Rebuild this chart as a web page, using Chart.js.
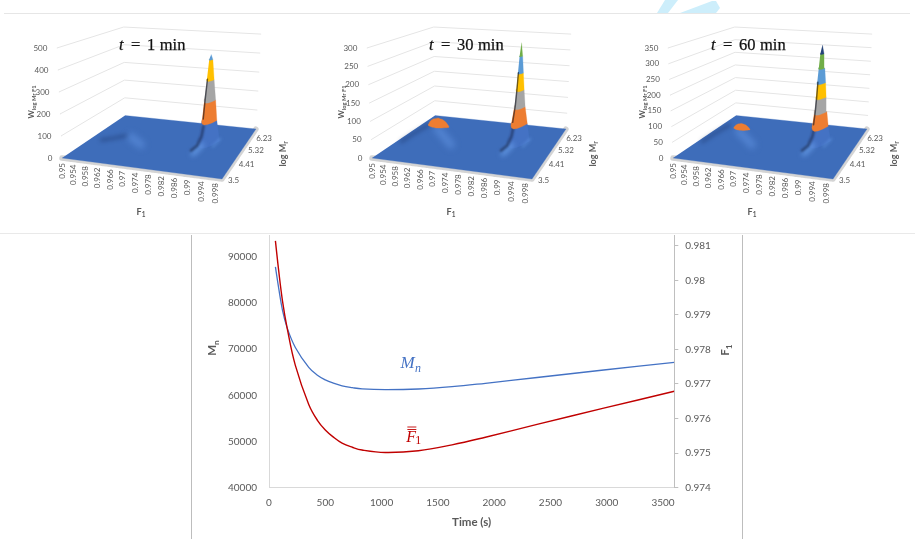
<!DOCTYPE html>
<html>
<head>
<meta charset="utf-8">
<script src="https://cdn.jsdelivr.net/npm/chart.js@4/dist/chart.umd.min.js"></script>
<style>
  html, body { margin: 0; padding: 0; background: #fff; overflow: hidden; }
  canvas { position: absolute; }
  .rule { position: absolute; }
</style>
</head>
<body>
<svg style="position:absolute;left:0;top:0" width="915" height="14">
  <polygon points="657,13 668,13 678,0 665,0" fill="#cdeefb"/>
  <polygon points="680,13 716,13 720,8 716,1 712,1" fill="#cdeefb"/>
</svg>
<div class="rule" style="left:4px;top:13px;width:906px;height:1px;background:#e6e6e6"></div>
<div class="rule" style="left:0;top:233px;width:915px;height:1px;background:#e9e9e9"></div>
<div class="rule" style="left:191px;top:235px;width:1px;height:304px;background:#bdbdbd"></div>
<div class="rule" style="left:742px;top:235px;width:1px;height:304px;background:#bdbdbd"></div>
<canvas id="surf1" width="300" height="228" style="left:0;top:0"></canvas>
<canvas id="surf30" width="300" height="228" style="left:310px;top:0"></canvas>
<canvas id="surf60" width="300" height="228" style="left:611px;top:0"></canvas>
<canvas id="trend" width="550" height="304" style="left:192px;top:235px"></canvas>
<script>
// bottom chart
const timeSeconds = [57, 86, 120, 160, 234, 353, 430, 500, 570, 649, 740, 827, 1033, 1327, 1626, 1922, 2381, 2973, 3600];
const mnValues = [87800, 83200, 78400, 74700, 70360, 66050, 64350, 63350, 62650, 62050, 61650, 61380, 61220, 61360, 61860, 62600, 63850, 65480, 67140];
const f1Values = [0.98114, 0.98028, 0.9794, 0.97864, 0.97754, 0.97641, 0.97595, 0.97567, 0.97547, 0.97529, 0.97517, 0.97509, 0.97502, 0.97507, 0.97524, 0.97546, 0.97583, 0.9763, 0.97679];
const timeTicks = [0, 500, 1000, 1500, 2000, 2500, 3000, 3500];
const mnTicks = [40000, 50000, 60000, 70000, 80000, 90000];
const f1Ticks = [0.974, 0.975, 0.976, 0.977, 0.978, 0.979, 0.98, 0.981];

// surface axes
const surfaceF1Ticks = [0.95, 0.954, 0.958, 0.962, 0.966, 0.97, 0.974, 0.978, 0.982, 0.986, 0.99, 0.994, 0.998];
const logMrTicks = [3.5, 4.41, 5.32, 6.23];
const wTicks1 = [0, 100, 200, 300, 400, 500];
const wTicks30 = [0, 50, 100, 150, 200, 250, 300];
const wTicks60 = [0, 50, 100, 150, 200, 250, 300, 350];

// tall peak: contour heights and half width in F1 at each height
const spikeLevels1 = [0, 100, 200, 300, 400, 425];
const spikeWidths1 = [0.0036, 0.0025, 0.0019, 0.0012, 0.0006, 0];
const spikeLevels30 = [0, 50, 100, 150, 200, 250, 290];
const spikeWidths30 = [0.0036, 0.0027, 0.0018, 0.0013, 0.0009, 0.0005, 0];
const spikeLevels60 = [0, 50, 100, 150, 200, 250, 300, 330];
const spikeWidths60 = [0.0036, 0.0027, 0.0021, 0.0017, 0.0014, 0.001, 0.0006, 0];

// low peak, only the part above the first colour step
const domeLevels30 = [50, 58, 65, 70, 74];
const domeWidths30 = [0.0037, 0.0032, 0.0025, 0.0016, 0];
const domeLevels60 = [50, 56, 61, 65, 68];
const domeWidths60 = [0.0029, 0.0025, 0.002, 0.0013, 0];

// shaded ridges on the surface as [F1, log Mr, W]
const darkTrack1 = [[0.954, 4.88, 0], [0.957, 5.1, 0], [0.96, 5.39, 0]];
const darkTrack30 = [[0.9515, 4.7, 0], [0.9518, 5.4, 0], [0.9525, 6.08, 0]];
const glowTrack1 = [[0.9645, 4.9, 30], [0.968, 4.88, 0]];
const glowTrack30 = [[0.9635, 4.88, 40], [0.968, 4.88, 0]];
const spikeGlow = [[0.9865, 4.7, 0], [0.9868, 5.3, 0]];
const spikeGlowRight = [[0.9905, 5.3, 0], [0.9908, 5.9, 0]];
// foot of the tall peak, third value is a share of the top of the W axis
const shadowBase = [[0.985, 4.88, 0], [0.9855, 5.25, 0], [0.9855, 5.6, 0.05], [0.9855, 5.74, 0.13]];

const bandColors = ["#4472C4", "#ED7D31", "#A5A5A5", "#FFC000", "#5B9BD5", "#70AD47", "#264478"];
const floorColor = "#3E6DBA";
const textColor = "#595959";
const numFont = "Lato";

// corners of the floor in canvas pixels, the same for all three surfaces
const H = (() => {
  const [x0, y0] = [62, 158], [x1, y1] = [222, 179], [x2, y2] = [256, 129], [x3, y3] = [125, 115.5];
  const dx1 = x1 - x2, dx2 = x3 - x2, sx = x0 - x1 + x2 - x3;
  const dy1 = y1 - y2, dy2 = y3 - y2, sy = y0 - y1 + y2 - y3;
  const det = dx1 * dy2 - dx2 * dy1;
  const g = (sx * dy2 - dx2 * sy) / det, h = (dx1 * sy - sx * dy1) / det;
  return { a: x1 - x0 + g * x1, b: x3 - x0 + h * x3, c: x0, d: y1 - y0 + g * y1, e: y3 - y0 + h * y3, f: y0, g, h };
})();

const F1_MIN = 0.95, F1_MAX = 1, M_MIN = 3.5, M_MAX = 6.94;

function project(f1, m, w, wMax) {
  const u = (f1 - F1_MIN) / (F1_MAX - F1_MIN), v = (m - M_MIN) / (M_MAX - M_MIN);
  const q = H.g * u + H.h * v + 1;
  const x = (H.a * u + H.b * v + H.c) / q;
  const y = (H.d * u + H.e * v + H.f) / q;
  const zp = (w / wMax) * 110 / q;
  return { x: x + (x - 155) * 0.0005 * zp, y: y - zp };
}

function area(points, color) {
  return { data: points, showLine: true, fill: "shape", backgroundColor: color, borderColor: color, borderWidth: 0.3, pointRadius: 0, clip: false };
}
function stroke(points, color, width, soft) {
  return { data: points, showLine: true, fill: false, borderColor: color, borderWidth: width, pointRadius: 0, borderCapStyle: "round", borderJoinStyle: "round", clip: false, soft };
}

// one colour band of a peak between two contours, the lower edge bows forward
function bandPoints(f1, m, levels, widths, from, to, wMax, bow) {
  const pts = [];
  [-1, -0.7, -0.35, 0, 0.35, 0.7, 1].forEach(t => {
    pts.push(project(f1 + t * widths[from], m - bow * widths[from] * (1 - t * t), levels[from], wMax));
  });
  for (let i = from + 1; i <= to; i++) pts.push(project(f1 + widths[i], m, levels[i], wMax));
  for (let i = to; i > from; i--) pts.push(project(f1 - widths[i], m, levels[i], wMax));
  return pts;
}

const softBlur = {
  id: "softBlur",
  beforeDatasetDraw(chart, args) {
    const b = chart.data.datasets[args.index].soft;
    if (b) chart.ctx.filter = "blur(" + b + "px)";
  },
  afterDatasetDraw(chart) { chart.ctx.filter = "none"; }
};

// text made of normal and lowered runs, can be turned
function subText(ctx, parts, x, y, size, color, angle, weight) {
  ctx.save();
  ctx.translate(x, y);
  ctx.rotate(angle);
  ctx.fillStyle = color;
  ctx.textBaseline = "alphabetic";
  ctx.textAlign = "left";
  let total = 0;
  parts.forEach(p => {
    ctx.font = weight + " " + (p[1] ? size * 0.72 : size) + "px " + numFont;
    total += ctx.measureText(p[0]).width;
  });
  let cx = -total / 2;
  parts.forEach(p => {
    ctx.font = weight + " " + (p[1] ? size * 0.72 : size) + "px " + numFont;
    ctx.fillText(p[0], cx, size * 0.35 + (p[1] ? size * 0.22 : 0));
    cx += ctx.measureText(p[0]).width;
  });
  ctx.restore();
}

function surfaceLabels(wTicks, minutes, titleX) {
  const wMax = wTicks[wTicks.length - 1];
  return {
    id: "surfaceLabels",
    afterDraw(chart) {
      const ctx = chart.ctx;
      ctx.save();
      ctx.fillStyle = textColor;
      ctx.font = "8px " + numFont;
      ctx.textAlign = "right";
      ctx.textBaseline = "middle";
      wTicks.forEach(w => {
        const p = project(F1_MIN, M_MIN, w, wMax);
        ctx.fillText(String(w), p.x - 9.5, p.y);
      });
      ctx.textAlign = "left";
      logMrTicks.forEach(m => {
        const p = project(F1_MAX, m, 0, wMax);
        ctx.fillText(String(m), p.x + 6, p.y + 1);
      });
      surfaceF1Ticks.forEach(f => {
        const p = project(f, M_MIN, 0, wMax);
        ctx.save();
        ctx.translate(p.x, p.y + 5);
        ctx.rotate(-Math.PI / 2);
        ctx.textAlign = "right";
        ctx.fillText(String(f), 0, 0);
        ctx.restore();
      });
      ctx.restore();
      subText(ctx, [["W", 0], ["log Mr F1", 1]], 31, 102, 8, textColor, -Math.PI / 2, "bold");
      subText(ctx, [["F", 0], ["1", 1]], 141, 212, 9, textColor, 0, "bold");
      subText(ctx, [["log M", 0], ["r", 1]], 283, 154, 9, textColor, -Math.PI / 2, "bold");
      // panel title, thin outline to get the weight of the original face
      ctx.save();
      ctx.fillStyle = "#111";
      ctx.strokeStyle = "#111";
      ctx.lineWidth = 0.25;
      ctx.textAlign = "left";
      ctx.textBaseline = "alphabetic";
      const put = (s, x) => { ctx.fillText(s, x, 50); ctx.strokeText(s, x, 50); };
      ctx.font = "italic 16.5px 'Liberation Serif'";
      put("t", titleX);
      ctx.font = "16.5px 'Liberation Serif'";
      put("=", titleX + 12);
      put(minutes, titleX + 28);
      put("min", titleX + 28 + ctx.measureText(minutes).width + 4.5);
      ctx.restore();
    }
  };
}

function makeSurface(id, cfg) {
  const { wTicks, levels, widths, domeLevels, domeWidths, darkTrack, glowTrack, titleX, minutes } = cfg;
  const wMax = wTicks[wTicks.length - 1];
  const P = (f, m, w) => project(f, m, w, wMax);
  const spikeF1 = 0.9875, spikeM = 5.74, domeF1 = cfg.domeF1, domeM = 4.88;
  const layers = [];
  // walls, bottom layer first
  wTicks.slice(1).forEach(w => {
    layers.push(stroke([P(F1_MIN, M_MIN, w), P(F1_MIN, M_MAX, w), P(F1_MAX, M_MAX, w)], "#e5e5e5", 1));
  });
  const fl = P(F1_MIN, M_MIN, 0), fr = P(F1_MAX, M_MIN, 0), br = P(F1_MAX, M_MAX, 0), bl = P(F1_MIN, M_MAX, 0);
  const fringe = stroke([fl, fr, br], "#d4d4d4", 5.5);
  fringe.borderDash = [1.6, 0.9];
  layers.push(fringe);
  layers.push(area([fl, fr, br, bl], floorColor));
  // low peak
  layers.push(stroke(darkTrack.map(p => P(p[0], p[1], p[2])), "rgba(12,28,70,0.38)", 3, 2));
  layers.push(stroke(glowTrack.map(p => P(p[0], p[1], p[2])), "rgba(98,150,228,0.55)", 8, 3));
  if (domeLevels) {
    const dome = area(bandPoints(domeF1, domeM, domeLevels, domeWidths, 0, domeLevels.length - 1, wMax, 40), bandColors[1]);
    dome.tension = 0.25;
    layers.push(dome);
  }
  // tall peak, the blue foot first, then its shadow and glow, then the colour bands
  layers.push(area(bandPoints(spikeF1, spikeM, levels, widths, 0, 1, wMax, 180), bandColors[0]));
  layers.push(stroke(spikeGlow.map(p => P(p[0], p[1], p[2])), "rgba(105,160,235,0.75)", 5, 2.4));
  layers.push(stroke(spikeGlowRight.map(p => P(p[0], p[1], p[2])), "rgba(105,160,235,0.4)", 2.5, 1.5));
  layers.push(stroke(shadowBase.map(p => P(p[0], p[1], p[2] * wMax)), "rgba(10,14,35,0.5)", 2.6, 1.2));
  for (let i = 1; i < levels.length - 1; i++) {
    layers.push(area(bandPoints(spikeF1, spikeM, levels, widths, i, i + 1, wMax, 180), bandColors[i]));
  }
  // dark side of the peak, runs up the left flank and thins out
  const flank = [];
  const stop = Math.ceil(levels.length * 0.6);
  for (let i = 1; i < stop; i++) flank.push(P(spikeF1 - widths[i] * 0.85, spikeM, levels[i]));
  layers.push(stroke(flank, "rgba(15,18,30,0.6)", 1.4, 0.7));

  new Chart(document.getElementById(id), {
    type: "scatter",
    // first dataset is painted last in Chart.js
    data: { datasets: layers.reverse() },
    options: {
      responsive: false,
      animation: false,
      events: [],
      layout: { padding: 0 },
      plugins: { legend: { display: false }, tooltip: { enabled: false } },
      scales: {
        x: { display: false, min: 0, max: 300 },
        y: { display: false, min: 0, max: 228, reverse: true }
      }
    },
    plugins: [softBlur, surfaceLabels(wTicks, minutes, titleX)]
  });
}

makeSurface("surf1", { wTicks: wTicks1, levels: spikeLevels1, widths: spikeWidths1, darkTrack: darkTrack1, glowTrack: glowTrack1, titleX: 119, minutes: "1" });
makeSurface("surf30", { wTicks: wTicks30, levels: spikeLevels30, widths: spikeWidths30, domeLevels: domeLevels30, domeWidths: domeWidths30, domeF1: 0.9637, darkTrack: darkTrack30, glowTrack: glowTrack30, titleX: 119, minutes: "30" });
makeSurface("surf60", { wTicks: wTicks60, levels: spikeLevels60, widths: spikeWidths60, domeLevels: domeLevels60, domeWidths: domeWidths60, domeF1: 0.9645, darkTrack: darkTrack30, glowTrack: glowTrack30, titleX: 100, minutes: "60" });

// labels the bottom chart needs beyond its ticks
const trendLabels = {
  id: "trendLabels",
  afterDraw(chart) {
    const ctx = chart.ctx, sx = chart.scales.x, sy = chart.scales.y;
    subText(ctx, [["Time (s)", 0]], sx.getPixelForValue(1800), 286.5, 11.5, textColor, 0, "bold");
    subText(ctx, [["M", 0], ["n", 1]], 20, 113, 11.5, textColor, -Math.PI / 2, "bold");
    subText(ctx, [["F", 0], ["1", 1]], 533, 115, 11.5, textColor, -Math.PI / 2, "bold");
    ctx.save();
    ctx.textBaseline = "alphabetic";
    ctx.textAlign = "left";
    const mx = sx.getPixelForValue(1167), my = sy.getPixelForValue(65900);
    ctx.fillStyle = "#4472C4";
    ctx.font = "italic 17px 'Liberation Serif'";
    ctx.fillText("M", mx, my);
    ctx.font = "italic 12px 'Liberation Serif'";
    ctx.fillText("n", mx + 14.5, my + 4);
    const fx = sx.getPixelForValue(1220), fy = sy.getPixelForValue(50000);
    ctx.fillStyle = "#C00000";
    ctx.font = "italic 16px 'Liberation Serif'";
    ctx.fillText("F", fx, fy);
    ctx.font = "12px 'Liberation Serif'";
    ctx.fillText("1", fx + 9, fy + 2);
    ctx.strokeStyle = "#C00000";
    ctx.lineWidth = 0.9;
    [-14.5, -12].forEach(dy => {
      ctx.beginPath();
      ctx.moveTo(fx + 1, fy + dy);
      ctx.lineTo(fx + 10, fy + dy);
      ctx.stroke();
    });
    ctx.restore();
  }
};

const tickFont = { family: numFont, size: 10 };

new Chart(document.getElementById("trend"), {
  type: "scatter",
  data: {
    datasets: [
      { label: "F1", yAxisID: "y2", data: timeSeconds.map((t, i) => ({ x: t, y: f1Values[i] })), showLine: true, borderColor: "#C00000", borderWidth: 1.4, pointRadius: 0, tension: 0.4 },
      { label: "Mn", yAxisID: "y", data: timeSeconds.map((t, i) => ({ x: t, y: mnValues[i] })), showLine: true, borderColor: "#4472C4", borderWidth: 1.3, pointRadius: 0, tension: 0.4 }
    ]
  },
  options: {
    responsive: false,
    animation: false,
    events: [],
    layout: { padding: 0 },
    plugins: { legend: { display: false }, tooltip: { enabled: false } },
    scales: {
      x: {
        type: "linear",
        min: 0,
        max: 3600,
        afterBuildTicks: s => { s.ticks = timeTicks.map(value => ({ value })); },
        afterFit: s => { s.height = 51.3; s.paddingLeft = 0; s.paddingRight = 0; },
        grid: { display: false, drawTicks: false },
        border: { color: "#d9d9d9" },
        ticks: { color: textColor, font: tickFont, padding: 9, maxRotation: 0, autoSkip: false, callback: v => String(v) }
      },
      y: {
        position: "left",
        min: 40000,
        max: 94700,
        afterBuildTicks: s => { s.ticks = mnTicks.map(value => ({ value })); },
        afterFit: s => { s.width = 77; s.paddingTop = 0; s.paddingBottom = 0; },
        grid: { display: false, drawTicks: false },
        border: { color: "#d9d9d9" },
        ticks: { color: textColor, font: tickFont, padding: 12, callback: v => String(v) }
      },
      y2: {
        position: "right",
        min: 0.974,
        max: 0.98131,
        afterBuildTicks: s => { s.ticks = f1Ticks.map(value => ({ value })); },
        afterFit: s => { s.width = 67.7; s.paddingTop = 0; s.paddingBottom = 0; },
        grid: { drawOnChartArea: false, color: "#bfbfbf", tickLength: 4 },
        border: { color: "#bfbfbf" },
        ticks: { color: textColor, font: tickFont, padding: 7, callback: v => String(v) }
      }
    }
  },
  plugins: [trendLabels]
});
</script>
</body>
</html>
